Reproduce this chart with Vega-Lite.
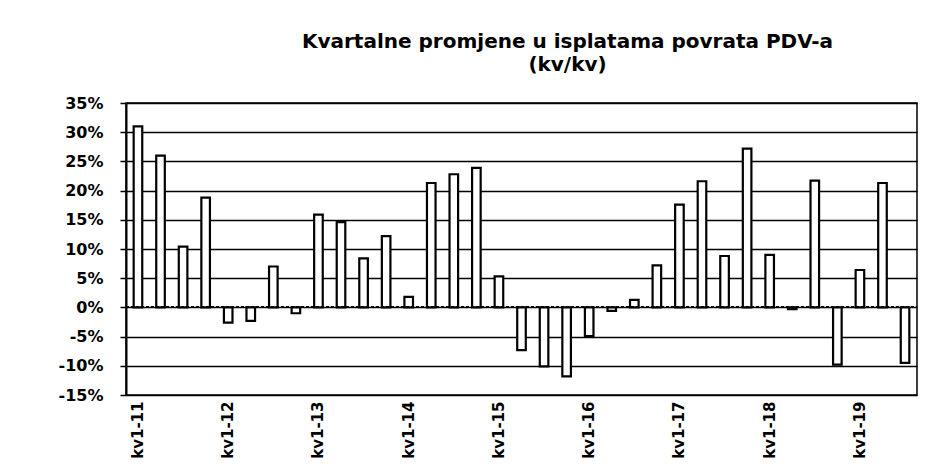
{
  "$schema": "https://vega.github.io/schema/vega-lite/v6.json",
  "autosize": "none",
  "width": 791,
  "height": 292,
  "padding": {"left": 126, "top": 103, "right": 19, "bottom": 79},
  "background": "white",
  "title": {
    "text": ["Kvartalne promjene u isplatama povrata PDV-a", "(kv/kv)"],
    "anchor": "middle",
    "frame": "group",
    "dx": 46,
    "offset": 20,
    "font": "DejaVu Sans",
    "fontSize": 20,
    "fontWeight": "bold",
    "color": "black",
    "lineHeight": 23
  },
  "config": {
    "view": {"stroke": "black", "strokeWidth": 1.5},
    "axis": {"labelFont": "DejaVu Sans", "labelFontWeight": "bold", "labelColor": "black"},
    "axisY": {
      "title": null,
      "values": [-15, -10, -5, 0, 5, 10, 15, 20, 25, 30, 35],
      "labelExpr": "datum.value + '%'",
      "labelFontSize": 16,
      "labelPadding": 17,
      "labelOverlap": false,
      "tickSize": 6,
      "tickColor": "black",
      "tickWidth": 1.5,
      "domainColor": "black",
      "domainWidth": 2,
      "grid": true,
      "gridColor": "black",
      "gridWidth": 1.5,
      "gridOpacity": 1
    }
  },
  "data": {
    "values": [
      {"q": "kv1-11", "v": 31.0}, {"q": "kv2-11", "v": 26.0}, {"q": "kv3-11", "v": 10.4}, {"q": "kv4-11", "v": 18.8},
      {"q": "kv1-12", "v": -2.6}, {"q": "kv2-12", "v": -2.3}, {"q": "kv3-12", "v": 7.0}, {"q": "kv4-12", "v": -1.0},
      {"q": "kv1-13", "v": 15.9}, {"q": "kv2-13", "v": 14.6}, {"q": "kv3-13", "v": 8.4}, {"q": "kv4-13", "v": 12.2},
      {"q": "kv1-14", "v": 1.8}, {"q": "kv2-14", "v": 21.3}, {"q": "kv3-14", "v": 22.8}, {"q": "kv4-14", "v": 23.9},
      {"q": "kv1-15", "v": 5.3}, {"q": "kv2-15", "v": -7.3}, {"q": "kv3-15", "v": -10.1}, {"q": "kv4-15", "v": -11.8},
      {"q": "kv1-16", "v": -4.9}, {"q": "kv2-16", "v": -0.6}, {"q": "kv3-16", "v": 1.3}, {"q": "kv4-16", "v": 7.2},
      {"q": "kv1-17", "v": 17.6}, {"q": "kv2-17", "v": 21.6}, {"q": "kv3-17", "v": 8.8}, {"q": "kv4-17", "v": 27.2},
      {"q": "kv1-18", "v": 9.0}, {"q": "kv2-18", "v": -0.3}, {"q": "kv3-18", "v": 21.7}, {"q": "kv4-18", "v": -9.8},
      {"q": "kv1-19", "v": 6.4}, {"q": "kv2-19", "v": 21.3}, {"q": "kv3-19", "v": -9.5}
    ]
  },
  "encoding": {
    "x": {
      "field": "q",
      "type": "ordinal",
      "sort": null,
      "scale": {"paddingInner": 0.62, "paddingOuter": 0.34},
      "axis": {
        "title": null,
        "labelAngle": 270,
        "labelAlign": "right",
        "labelBaseline": "middle",
        "labelFontSize": 15,
        "labelPadding": 6,
        "ticks": false,
        "domain": false,
        "labelOverlap": false,
        "labelExpr": "indexof(datum.value, 'kv1') == 0 ? datum.value : ''"
      }
    }
  },
  "layer": [
    {
      "mark": {"type": "bar", "fill": "white", "stroke": "black", "strokeWidth": 2.2},
      "encoding": {
        "y": {
          "field": "v",
          "type": "quantitative",
          "title": null,
          "scale": {"domain": [-15, 35], "nice": false, "zero": false}
        }
      }
    },
    {
      "mark": {"type": "rule", "color": "black", "strokeWidth": 1.2, "strokeDash": [3, 2]},
      "encoding": {"y": {"datum": 0, "type": "quantitative"}, "x": {"value": 0}, "x2": {"value": 791}}
    }
  ]
}
